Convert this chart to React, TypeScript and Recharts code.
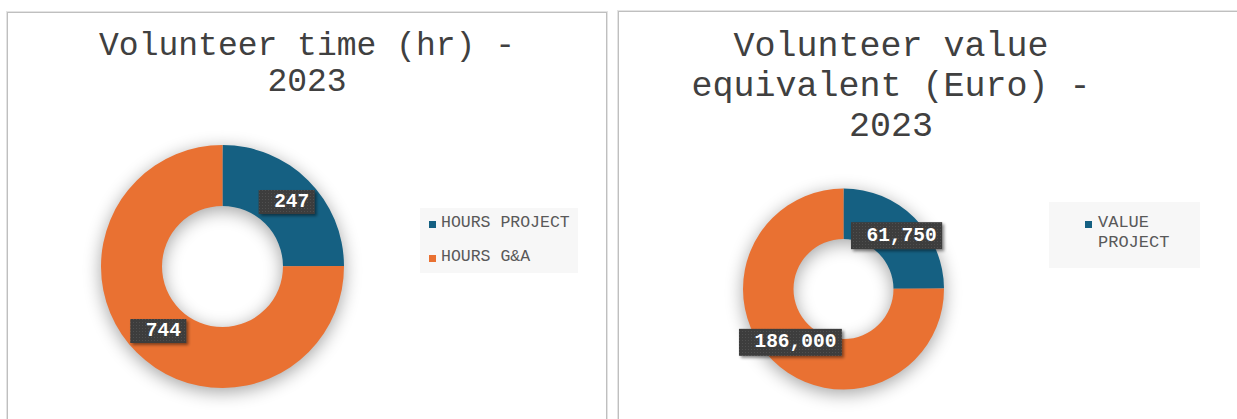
import React from 'react';
import { PieChart, Pie, Cell, Legend } from 'recharts';

// ---- data ----
const hoursCategories = ['HOURS PROJECT', 'HOURS G&A'];
const hoursValues = [247, 744];
const valueCategories = ['VALUE PROJECT', 'VALUE G&A'];
const valueValues = [61750, 186000];
const sliceColors = ['#156082', '#E97132'];
const hoursTitle = ['Volunteer time (hr) -', '2023'];
const valueTitle = ['Volunteer value', 'equivalent (Euro) -', '2023'];

const hoursData = hoursCategories.map((name, i) => ({ name, value: hoursValues[i] }));
const valueData = valueCategories.map((name, i) => ({ name, value: valueValues[i] }));

const MONO = "'Liberation Mono', 'Courier New', monospace";
const RAD = Math.PI / 180;

const makeLabel = (fs: number, h: number) => (props: any) => {
  const { cx, cy, midAngle, innerRadius, outerRadius, value } = props;
  const r = (Number(innerRadius) + Number(outerRadius)) / 2;
  const x = Number(cx) + r * Math.cos(-midAngle * RAD);
  const y = Number(cy) + r * Math.sin(-midAngle * RAD);
  const text = Number(value).toLocaleString('en-US');
  const w = text.length * 0.6 * fs + 21;
  return (
    <g>
      <rect x={x - w / 2} y={y - h / 2} width={w} height={h} fill="url(#dotPat)" filter="url(#boxShadow)" />
      <text
        x={x + 5}
        y={y}
        textAnchor="middle"
        dominantBaseline="central"
        fill="#ffffff"
        fontFamily={MONO}
        fontWeight="bold"
        fontSize={fs}
      >
        {text}
      </text>
    </g>
  );
};

type LegendCfg = {
  w: number; h: number; markerLeft: number; textLeft: number; textWidth: number;
  top: number; step: number; fs: number; wrap: boolean; maxItems: number;
};

const makeLegend = (cfg: LegendCfg, data: { name: string }[]) => () => (
  <div
    style={{
      width: cfg.w, height: cfg.h, background: '#F7F7F7', position: 'relative', overflow: 'hidden',
      fontFamily: MONO, fontSize: cfg.fs, color: '#595959',
    }}
  >
    {data.slice(0, cfg.maxItems).map((d, i) => (
      <div
        key={d.name}
        style={{
          position: 'absolute', left: cfg.textLeft, top: cfg.top + i * cfg.step, width: cfg.textWidth,
          lineHeight: '20px', whiteSpace: cfg.wrap ? 'normal' : 'nowrap',
        }}
      >
        <span
          style={{
            position: 'absolute', left: cfg.markerLeft - cfg.textLeft, top: 8, width: 7, height: 7,
            background: sliceColors[i],
          }}
        />
        {d.name}
      </div>
    ))}
  </div>
);

const Panel = ({ left, top, width }: { left: number; top: number; width: number }) => (
  <div
    style={{
      position: 'absolute', left, top, width, height: 460, boxSizing: 'border-box',
      border: '1px solid #bfbfbf', boxShadow: '0 0 0 1px #e4e4e4', background: '#fff',
    }}
  />
);

type DonutProps = {
  data: { name: string; value: number }[];
  left: number; width: number; cx: number; cy: number; inner: number; outer: number;
};

const ShadowDonut = ({ data, left, width, cx, cy, inner, outer }: DonutProps) => (
  <div style={{ position: 'absolute', left, top: 0, filter: 'blur(9px)', opacity: 0.36 }}>
    <PieChart width={width} height={419} margin={{ top: 0, right: 0, bottom: 0, left: 0 }}>
      <Pie
        data={data}
        dataKey="value"
        nameKey="name"
        cx={cx}
        cy={cy + 4}
        innerRadius={inner}
        outerRadius={outer}
        startAngle={90}
        endAngle={-270}
        stroke="none"
        fill="#000"
        label={false}
        labelLine={false}
        isAnimationActive={false}
      >
        {data.map((d) => (
          <Cell key={d.name} fill="#000" />
        ))}
      </Pie>
    </PieChart>
  </div>
);

export default function App() {
  return (
    <div style={{ position: 'absolute', left: 0, top: 0, width: 1237, height: 419, overflow: 'hidden', background: '#fff' }}>
      <Panel left={7} top={12} width={600} />
      <Panel left={618} top={11} width={640} />

      <svg width={0} height={0} style={{ position: 'absolute' }}>
        <defs>
          <filter id="boxShadow" x="-20%" y="-30%" width="140%" height="170%">
            <feDropShadow dx="2" dy="2" stdDeviation="1.5" floodColor="#000" floodOpacity="0.45" />
          </filter>
          <pattern id="dotPat" width="3" height="3" patternUnits="userSpaceOnUse">
            <rect width="3" height="3" fill="#3d3d3d" />
            <rect x="1" y="1" width="1" height="1" fill="#505050" />
          </pattern>
        </defs>
      </svg>

      <ShadowDonut data={hoursData} left={0} width={612} cx={222.5} cy={266.5} inner={60.5} outer={121.5} />
      <ShadowDonut data={valueData} left={612} width={625} cx={231.5} cy={289} inner={50} outer={100.5} />

      {/* Left chart: hours */}
      <div style={{ position: 'absolute', left: 0, top: 0 }}>
        <PieChart width={612} height={419} margin={{ top: 0, right: 0, bottom: 0, left: 0 }}>
          <Pie
            data={hoursData}
            dataKey="value"
            nameKey="name"
            cx={222.5}
            cy={266.5}
            innerRadius={60.5}
            outerRadius={121.5}
            startAngle={90}
            endAngle={-270}
            stroke="none"
            label={makeLabel(19.5, 24)}
            labelLine={false}
            isAnimationActive={false}
          >
            {hoursData.map((d, i) => (
              <Cell key={d.name} fill={sliceColors[i]} />
            ))}
          </Pie>
          <Legend
            content={makeLegend(
              { w: 158, h: 65, markerLeft: 9, textLeft: 21, textWidth: 136, top: 5, step: 34, fs: 16.5, wrap: false, maxItems: 2 },
              hoursData,
            )}
            wrapperStyle={{ left: 420, top: 208, width: 158, height: 65 }}
          />
        </PieChart>
      </div>

      {/* Right chart: value */}
      <div style={{ position: 'absolute', left: 612, top: 0 }}>
        <PieChart width={625} height={419} margin={{ top: 0, right: 0, bottom: 0, left: 0 }}>
          <Pie
            data={valueData}
            dataKey="value"
            nameKey="name"
            cx={231.5}
            cy={289}
            innerRadius={50}
            outerRadius={100.5}
            startAngle={90}
            endAngle={-270}
            stroke="none"
            label={makeLabel(19.5, 27)}
            labelLine={false}
            isAnimationActive={false}
          >
            {valueData.map((d, i) => (
              <Cell key={d.name} fill={sliceColors[i]} />
            ))}
          </Pie>
          <Legend
            content={makeLegend(
              { w: 151, h: 66, markerLeft: 36, textLeft: 49, textWidth: 100, top: 11, step: 54, fs: 17, wrap: true, maxItems: 1 },
              valueData,
            )}
            wrapperStyle={{ left: 437, top: 202, width: 151, height: 66 }}
          />
        </PieChart>
      </div>

      {/* Titles */}
      <svg width={1237} height={419} style={{ position: 'absolute', left: 0, top: 0, pointerEvents: 'none' }}>
        {hoursTitle.map((t, i) => (
          <text
            key={t}
            x={307}
            y={55 + i * 36}
            textAnchor="middle"
            fontFamily={MONO}
            fontSize={33}
            fill="#404040"
            style={{ whiteSpace: 'pre' }}
          >
            {t}
          </text>
        ))}
        {valueTitle.map((t, i) => (
          <text
            key={t}
            x={891}
            y={56 + i * 40}
            textAnchor="middle"
            fontFamily={MONO}
            fontSize={35}
            fill="#404040"
            style={{ whiteSpace: 'pre' }}
          >
            {t}
          </text>
        ))}
      </svg>
    </div>
  );
}
